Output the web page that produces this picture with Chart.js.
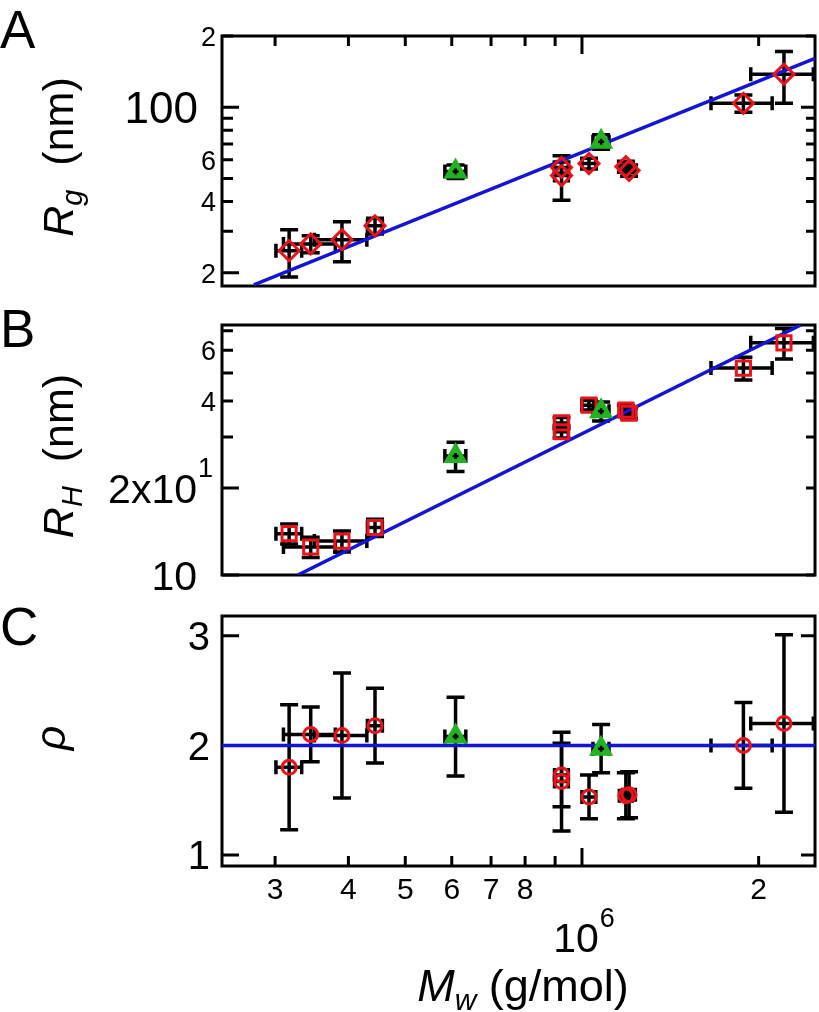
<!DOCTYPE html>
<html>
<head>
<meta charset="utf-8">
<title>Rg, RH and rho versus Mw</title>
<script src="https://cdn.jsdelivr.net/npm/chart.js@4.4.1/dist/chart.umd.min.js"></script>
<style>
    html, body { margin: 0; padding: 0; background: #fff; }
    body { width: 819px; height: 1012px; position: relative; overflow: hidden; }
    .panel { position: absolute; left: 0; width: 819px; }
    #panelA { top: 0; height: 300px; }
    #panelB { top: 300px; height: 290px; }
    #panelC { top: 590px; height: 422px; }
</style>
</head>
<body>
<div class="panel" id="panelA"><canvas id="chartA"></canvas></div>
<div class="panel" id="panelB"><canvas id="chartB"></canvas></div>
<div class="panel" id="panelC"><canvas id="chartC"></canvas></div>
<script>
// =========================
// Data
// =========================

// Molecular weight, g/mol (same samples in all three panels)
const mwRed = [3.17e5, 3.45e5, 3.90e5, 4.44e5, 9.23e5, 9.23e5, 1.028e6, 1.188e6, 1.203e6, 1.884e6, 2.209e6];
const mwRedErr = [0.16e5, 0.35e5, 0.40e5, 0.13e5, 0.025e6, 0.025e6, 0.028e6, 0.03e6, 0.03e6, 0.225e6, 0.27e6];
const mwGreen = [6.09e5, 1.078e6];
const mwGreenErr = [0.25e5, 0.034e6];

// Panel A: radius of gyration (nm)
const rgRed = [24.8, 26.5, 27.6, 31.6, 55.7, 51.5, 57.9, 56.2, 54.1, 104, 138];
const rgRedErr = [5.6, 2.2, 5.3, 2.4, 3.0, 11.0, 3.0, 3.0, 3.0, 8.8, 34];
const rgGreen = [53.6, 71.5];
const rgGreenErr = [3.5, 5.0];
const rgFitMw = [2.76e5, 2.495e6];
const rgFitY = [17.8, 161];

// Panel B: hydrodynamic radius (nm)
const rhRed = [13.9, 12.5, 13.1, 14.6, 33.6, 31.3, 38.7, 37.2, 36.3, 52.0, 63.6];
const rhRedErr = [1.1, 1.0, 1.1, 1.0, 1.5, 1.5, 1.5, 1.5, 1.5, 4.7, 7.7];
const rhGreen = [25.8, 36.9];
const rhGreenErr = [3.0, 2.8];
const rhFitMw = [3.28e5, 2.36e6];
const rhFitY = [10, 73.3];

// Panel C: rho = Rg / RH
const rhoRed = [1.80, 2.10, 2.09, 2.18, 1.73, 1.67, 1.53, 1.54, 1.55, 2.00, 2.20];
const rhoRedErr = [0.57, 0.25, 0.57, 0.34, 0.29, 0.45, 0.20, 0.21, 0.21, 0.39, 0.81];
const rhoGreen = [2.08, 1.97];
const rhoGreenErr = [0.36, 0.22];
const rhoFitMw = [2.436e5, 2.495e6];
const rhoFitY = [2, 2];

// Ticks
const xTicks = [3e5, 4e5, 5e5, 6e5, 7e5, 8e5, 9e5, 1e6, 2e6];
const xTickLabels = ['3', '4', '5', '6', '7', '8', '', '', '2'];
const xDecadeLabel = '10^6';
const rgTicks = [20, 30, 40, 50, 60, 70, 80, 90, 100, 200];
const rgTickLabels = ['2', '', '4', '', '6', '', '', '', '100', '2'];
const rhTicks = [10, 20, 30, 40, 50, 60, 70];
const rhTickLabels = ['10', '2x10^1', '', '4', '', '6', ''];
const rhoTicks = [1, 2, 3];
const rhoTickLabels = ['1', '2', '3'];

// =========================
// Styles
// =========================
const RED = 'rgb(232, 20, 26)';
const GREEN = 'rgb(34, 178, 34)';
const BLUE = 'rgb(20, 20, 212)';
const FONT = '"Liberation Sans", Arial, Helvetica, sans-serif';
const X_MIN = 2.436e5, X_MAX = 2.495e6;

const panelCfg = {
    chartA: {
        letter: 'A', letterBase: 48,
        yTicks: rgTicks, yLabels: rgTickLabels, yLongL: [20, 100], yLongR: [100],
        smallSize: 27, bigSize: 44, smallRight: 216, bigRight: 198, bigAt: [100],
        title: [
            { t: 'R', size: 43, italic: true },
            { t: 'g', size: 29, italic: true, dy: 9 },
            { t: '  (nm)', size: 43 }
        ],
        titleBase: 73, titleMid: 157,
        xTop: true
    },
    chartB: {
        letter: 'B', letterBase: 47,
        yTicks: rhTicks, yLabels: rhTickLabels, yLongL: [10, 20], yLongR: [],
        smallSize: 27, bigSize: 41, smallRight: 216, bigRight: 197, bigAt: [10, 20],
        title: [
            { t: 'R', size: 43, italic: true },
            { t: 'H', size: 29, italic: true, dy: 9 },
            { t: '  (nm)', size: 43 }
        ],
        titleBase: 73, titleMid: 156
    },
    chartC: {
        letter: 'C', letterBase: 55,
        yTicks: rhoTicks, yLabels: rhoTickLabels, yLongL: [1, 2, 3], yLongR: [1, 2, 3],
        smallSize: 40, bigSize: 40, smallRight: 210, bigRight: 210, bigAt: [],
        title: [{ t: 'ρ', size: 43, italic: true }],
        titleBase: 65, titleMid: 148,
        xBottom: true
    }
};

function pts(xs, ys) {
    return xs.map((x, i) => ({ x: x, y: ys[i] }));
}

function font(size, italic) {
    return (italic ? 'italic ' : '') + size + 'px ' + FONT;
}

// number label with optional superscript ("2x10^1"); right alignment uses the base only
function drawNumber(ctx, s, x, y, size, align) {
    const parts = s.split('^');
    const base = parts[0], sup = parts[1] || '';
    const supSize = Math.round(size * 0.66);
    ctx.font = font(size);
    const wb = ctx.measureText(base).width;
    ctx.font = font(supSize);
    const ws = sup ? ctx.measureText(sup).width + 1 : 0;
    const start = align === 'right' ? x - wb : x - (wb + ws) / 2;
    ctx.textAlign = 'left';
    ctx.textBaseline = 'alphabetic';
    ctx.font = font(size);
    ctx.fillText(base, start, y);
    if (sup) {
        ctx.font = font(supSize);
        ctx.fillText(sup, start + wb + 1, y - size * 0.62);
    }
}

// text made of runs (italic, subscripts), centered on x
function drawRuns(ctx, runs, x, y, rotate) {
    ctx.save();
    ctx.translate(x, y);
    if (rotate) ctx.rotate(-Math.PI / 2);
    ctx.textAlign = 'left';
    ctx.textBaseline = 'alphabetic';
    let total = 0;
    const widths = runs.map(r => {
        ctx.font = font(r.size, r.italic);
        const w = ctx.measureText(r.t).width;
        total += w;
        return w;
    });
    let cx = -total / 2;
    runs.forEach((r, i) => {
        ctx.font = font(r.size, r.italic);
        ctx.fillText(r.t, cx, r.dy || 0);
        cx += widths[i];
    });
    ctx.restore();
}

function drawErrorBars(chart) {
    const ctx = chart.ctx, a = chart.chartArea;
    const xs = chart.scales.x, ys = chart.scales.y;
    ctx.save();
    ctx.beginPath();
    ctx.rect(a.left, a.top, a.right - a.left, a.bottom - a.top);
    ctx.clip();
    ctx.strokeStyle = '#000';
    ctx.lineWidth = 3.5;
    chart.data.datasets.forEach(ds => {
        if (!ds.yErr) return;
        ds.data.forEach((p, i) => {
            const px = xs.getPixelForValue(p.x), py = ys.getPixelForValue(p.y);
            const y1 = ys.getPixelForValue(p.y + ds.yErr[i]);
            const y2 = ys.getPixelForValue(p.y - ds.yErr[i]);
            const x1 = xs.getPixelForValue(p.x - ds.xErr[i]);
            const x2 = xs.getPixelForValue(p.x + ds.xErr[i]);
            ctx.beginPath();
            ctx.moveTo(px, y1); ctx.lineTo(px, y2);
            ctx.moveTo(px - 9, y1); ctx.lineTo(px + 9, y1);
            ctx.moveTo(px - 9, y2); ctx.lineTo(px + 9, y2);
            ctx.moveTo(x1, py); ctx.lineTo(x2, py);
            ctx.moveTo(x1, py - 7); ctx.lineTo(x1, py + 7);
            ctx.moveTo(x2, py - 7); ctx.lineTo(x2, py + 7);
            ctx.stroke();
        });
    });
    ctx.restore();
}

function drawCenterCross(chart) {
    const ctx = chart.ctx;
    const xs = chart.scales.x, ys = chart.scales.y;
    ctx.save();
    ctx.strokeStyle = '#000';
    ctx.lineWidth = 2.5;
    chart.data.datasets.forEach(ds => {
        if (!ds.centerCross) return;
        ds.data.forEach(p => {
            const px = xs.getPixelForValue(p.x), py = ys.getPixelForValue(p.y);
            ctx.beginPath();
            ctx.moveTo(px - 3, py); ctx.lineTo(px + 3, py);
            ctx.moveTo(px, py - 3); ctx.lineTo(px, py + 3);
            ctx.stroke();
        });
    });
    ctx.restore();
}

// frame, inward ticks and all axis text; drawn before the datasets
function drawFrame(chart) {
    const cfg = panelCfg[chart.canvas.id];
    const ctx = chart.ctx, a = chart.chartArea;
    const xs = chart.scales.x, ys = chart.scales.y;
    ctx.save();
    ctx.fillStyle = '#000';
    ctx.strokeStyle = '#000';
    ctx.lineWidth = 3;
    ctx.strokeRect(a.left, a.top, a.right - a.left, a.bottom - a.top);

    // y ticks, pointing inward on both sides
    cfg.yTicks.forEach((v, i) => {
        const y = ys.getPixelForValue(v);
        const lenL = cfg.yLongL.includes(v) ? 17 : 11;
        const lenR = cfg.yLongR.includes(v) ? 14 : 9;
        ctx.beginPath();
        ctx.moveTo(a.left, y); ctx.lineTo(a.left + lenL, y);
        ctx.moveTo(a.right, y); ctx.lineTo(a.right - lenR, y);
        ctx.stroke();
        const lab = cfg.yLabels[i];
        if (!lab) return;
        const big = cfg.bigAt.includes(v);
        const size = big ? cfg.bigSize : cfg.smallSize;
        drawNumber(ctx, lab, big ? cfg.bigRight : cfg.smallRight, y + size * 0.36, size, 'right');
    });

    // x ticks
    if (cfg.xTop || cfg.xBottom) {
        xTicks.forEach((v, i) => {
            const x = xs.getPixelForValue(v);
            const len = v === 1e6 ? 18 : 10;
            ctx.beginPath();
            if (cfg.xTop) { ctx.moveTo(x, a.top); ctx.lineTo(x, a.top + len); }
            if (cfg.xBottom) { ctx.moveTo(x, a.bottom); ctx.lineTo(x, a.bottom - len); }
            ctx.stroke();
            if (cfg.xBottom && xTickLabels[i]) {
                drawNumber(ctx, xTickLabels[i], x, a.bottom + 33, 30, 'center');
            }
        });
        if (cfg.xBottom) {
            drawNumber(ctx, xDecadeLabel, xs.getPixelForValue(1e6) + 2, a.bottom + 86, 41, 'center');
            drawRuns(ctx, [
                { t: 'M', size: 45, italic: true },
                { t: 'w', size: 30, italic: true, dy: 9 },
                { t: ' (g/mol)', size: 45 }
            ], 523, a.bottom + 135, false);
        }
    }

    // y title and panel letter
    drawRuns(ctx, cfg.title, cfg.titleBase, cfg.titleMid, true);
    ctx.font = font(53);
    ctx.textAlign = 'left';
    ctx.fillText(cfg.letter, 0, cfg.letterBase);
    ctx.restore();
}

const panelPlugin = {
    id: 'panelDecor',
    beforeDatasetsDraw(chart) {
        drawFrame(chart);
        drawErrorBars(chart);
    },
    afterDatasetsDraw(chart) { drawCenterCross(chart); }
};

function makeChart(id, spec) {
    const ctx = document.getElementById(id).getContext('2d');
    return new Chart(ctx, {
        type: 'scatter',
        data: {
            datasets: [{
                type: 'line',
                data: pts(spec.fitX, spec.fitY),
                borderColor: BLUE,
                borderWidth: 3.5,
                pointRadius: 0,
                fill: false,
                tension: 0,
                order: 3
            }, {
                data: pts(mwRed, spec.red),
                xErr: mwRedErr,
                yErr: spec.redErr,
                pointStyle: spec.style,
                pointRadius: spec.radius,
                pointBorderWidth: 3,
                pointBorderColor: RED,
                pointBackgroundColor: 'rgba(0,0,0,0)',
                order: 2
            }, {
                data: pts(mwGreen, spec.green),
                xErr: mwGreenErr,
                yErr: spec.greenErr,
                centerCross: true,
                pointStyle: 'triangle',
                pointRadius: 12,
                pointBorderWidth: 2,
                pointBorderColor: GREEN,
                pointBackgroundColor: GREEN,
                order: 1
            }]
        },
        options: {
            responsive: true,
            maintainAspectRatio: false,
            animation: false,
            events: [],
            layout: { padding: spec.padding, autoPadding: false },
            plugins: {
                legend: { display: false },
                tooltip: { enabled: false }
            },
            scales: {
                x: { type: 'logarithmic', min: X_MIN, max: X_MAX, display: false },
                y: spec.y
            }
        },
        plugins: [panelPlugin]
    });
}

document.addEventListener('DOMContentLoaded', () => {
    makeChart('chartA', {
        fitX: rgFitMw, fitY: rgFitY,
        red: rgRed, redErr: rgRedErr, green: rgGreen, greenErr: rgGreenErr,
        style: 'rectRot', radius: 10,
        padding: { left: 222, right: 4, top: 36, bottom: 14 },
        y: { type: 'logarithmic', min: 17.6, max: 200, display: false }
    });
    makeChart('chartB', {
        fitX: rhFitMw, fitY: rhFitY,
        red: rhRed, redErr: rhRedErr, green: rhGreen, greenErr: rhGreenErr,
        style: 'rect', radius: 10,
        padding: { left: 222, right: 4, top: 25, bottom: 15 },
        y: { type: 'logarithmic', min: 10, max: 73.3, display: false }
    });
    makeChart('chartC', {
        fitX: rhoFitMw, fitY: rhoFitY,
        red: rhoRed, redErr: rhoRedErr, green: rhoGreen, greenErr: rhoGreenErr,
        style: 'circle', radius: 7,
        padding: { left: 222, right: 4, top: 26, bottom: 146 },
        y: { type: 'linear', min: 0.9, max: 3.18, display: false }
    });
});
</script>
</body>
</html>
